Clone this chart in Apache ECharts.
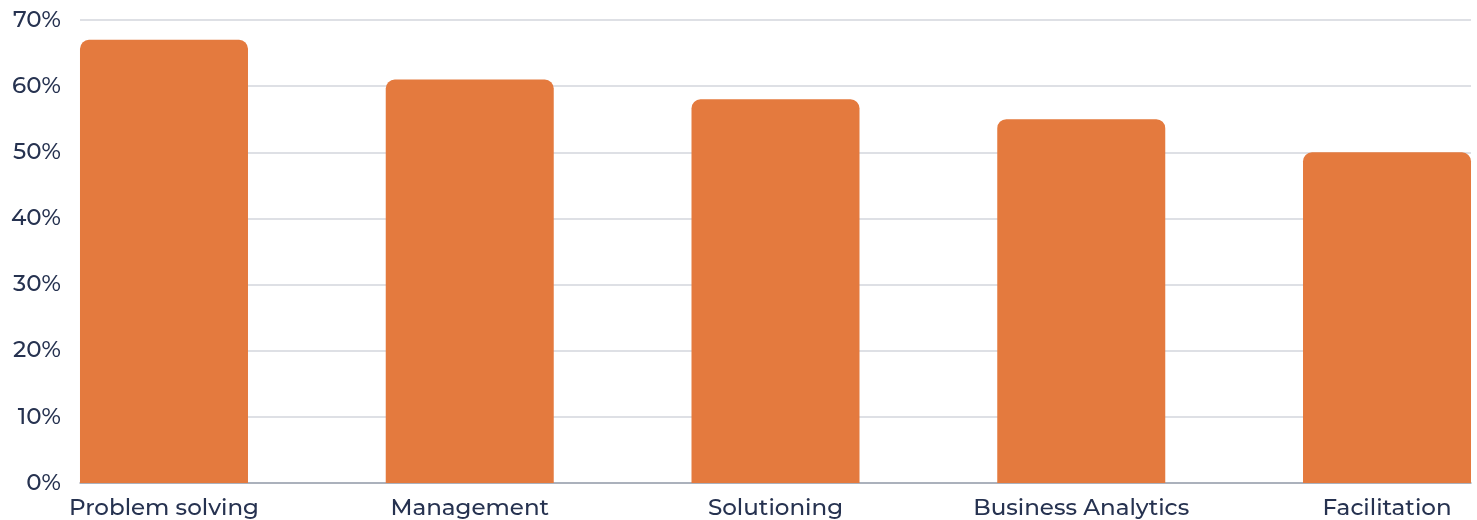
<!DOCTYPE html>
<html>
<head>
<meta charset="utf-8">
<script src="https://cdn.jsdelivr.net/npm/echarts@6/dist/echarts.min.js"></script>
<style>
  html, body { margin: 0; padding: 0; background: #fff; }
  #chart { width: 1477px; height: 520px; }
</style>
</head>
<body>
<div id="chart"></div>
<script>
const categories = ["Problem solving", "Management", "Solutioning", "Business Analytics", "Facilitation"];
const values = [67, 61, 58, 55, 50];
const yTicks = [0, 10, 20, 30, 40, 50, 60, 70];

const textColor = "#263250";
const fontFamily = "Montserrat, 'DejaVu Sans', sans-serif";

// bars sit flush with both ends, so x is a value axis over the category indexes
const positions = categories.map((c, i) => i);
const halfBar = 0.2747;

const chart = echarts.init(document.getElementById("chart"));
chart.setOption({
  animation: false,
  grid: { left: 80, right: 6, top: 20, bottom: 37, containLabel: false },
  xAxis: {
    type: "value",
    min: -halfBar,
    max: categories.length - 1 + halfBar,
    axisLine: { show: true, lineStyle: { color: "#9ba1ae", width: 1.5 } },
    axisTick: { show: false },
    splitLine: { show: false },
    axisLabel: {
      customValues: positions,
      formatter: (v) => categories[Math.round(v)],
      color: textColor,
      fontSize: 23,
      fontWeight: 500,
      fontFamily: fontFamily,
      margin: 14
    }
  },
  yAxis: {
    type: "value",
    min: 0,
    max: 70,
    interval: 10,
    axisLine: { show: false },
    axisTick: { show: false },
    splitLine: { lineStyle: { color: "#d3d6dc", width: 1.5 } },
    axisLabel: {
      customValues: yTicks,
      formatter: "{value}%",
      color: textColor,
      fontSize: 23,
      fontWeight: 500,
      fontFamily: fontFamily,
      margin: 19
    }
  },
  series: [{
    type: "bar",
    data: values.map((v, i) => [positions[i], v]),
    barWidth: 168,
    itemStyle: { color: "#e47a3e", borderRadius: [9, 9, 0, 0] }
  }]
});
</script>
</body>
</html>
